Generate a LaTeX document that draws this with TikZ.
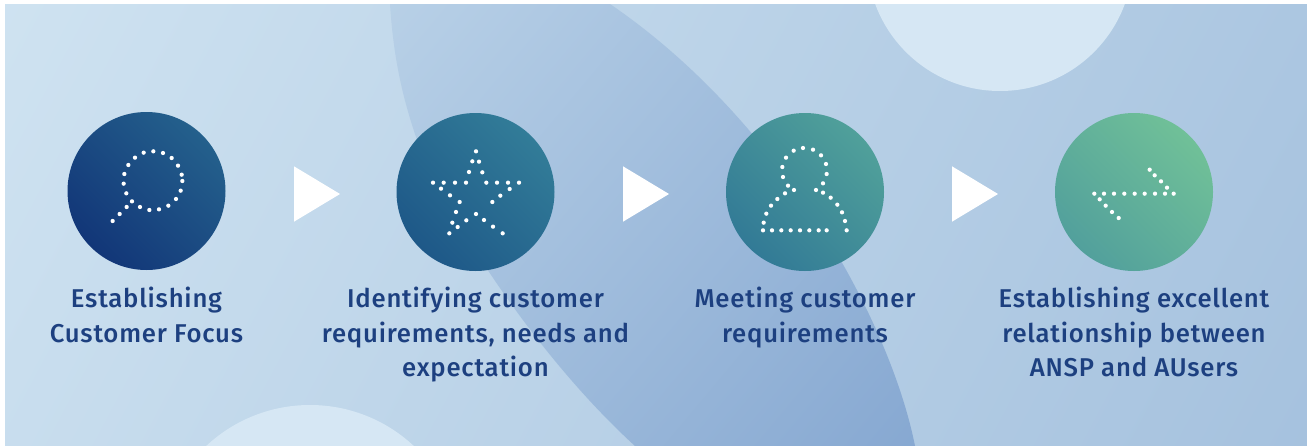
\documentclass[tikz,border=0pt]{standalone}
\usepackage{fontspec}
\newfontfamily\labfont[LetterSpace=3.0]{Fira Sans Medium}
\definecolor{txt}{HTML}{1D4080}
\definecolor{soft}{HTML}{D6E7F4}
\tikzset{
 pic scale/.style={x=0.75pt,y=-0.75pt},
 disc/.style={circle,minimum size=118.5pt,inner sep=0pt},
 lab/.style={font=\labfont\fontsize{19.3}{25.9}\selectfont,text=txt,align=center,anchor=north,inner sep=0pt},
 tri/.style={fill=white,draw=none},
}
\newcommand{\dotset}[3]{\begin{scope}[shift={(#1,#2)},x=0.25pt,y=-0.25pt]
 \foreach \px/\py in {#3}{\fill[white] (\px,\py) circle (1.6pt);}
\end{scope}}
\begin{document}
\begin{tikzpicture}[pic scale]
\useasboundingbox (0,0) rectangle (1307,446);
\fill[white] (0,0) rectangle (1307,446);
\begin{scope}
 \clip (5,4) rectangle (1307,446);
 \shade[left color={rgb,255:red,216;green,234;blue,245},right color={rgb,255:red,156;green,186;blue,218},shading angle=62] (656,225) circle (1000);
 \begin{scope}
  \clip (390,4) .. controls (393,50) and (400,90) .. (416,137) .. controls (440,205) and (530,350) .. (635,446) -- (915,446) .. controls (890,320) and (780,120) .. (610,4) -- cycle;
  \shade[left color={rgb,255:red,196;green,218;blue,236},right color={rgb,255:red,122;green,158;blue,204},shading angle=50] (656,225) circle (520);
 \end{scope}
 \fill[soft] (1000,-42) circle (133);
 \fill[soft] (310,557) circle (152);
\end{scope}
\node[disc,left color={rgb,255:red,18;green,54;blue,120},right color={rgb,255:red,36;green,96;blue,140},shading angle=135] (c1) at (146.5,191) {};
\node[disc,left color={rgb,255:red,30;green,88;blue,136},right color={rgb,255:red,50;green,124;blue,152},shading angle=135] (c2) at (475.5,192) {};
\node[disc,left color={rgb,255:red,50;green,122;blue,150},right color={rgb,255:red,80;green,160;blue,154},shading angle=135] (c3) at (805,192) {};
\node[disc,left color={rgb,255:red,82;green,160;blue,156},right color={rgb,255:red,112;green,192;blue,152},shading angle=135] (c4) at (1134,192) {};
\fill[tri] (294,166.3) -- (340,194) -- (294,221.7) -- cycle;
\fill[tri] (623,166.3) -- (669,194) -- (623,221.7) -- cycle;
\fill[tri] (952,166.3) -- (998,194) -- (952,221.7) -- cycle;
\dotset{60}{100}{158/363,179/342,200/321,216/304,199/280,191/251,193/222,205/195,225/173,251/158,280/154,309/159,335/174,354/197,365/224,367/243,362/272,348/297,325/317,297/328,268/330,240/321}
\dotset{390}{100}{258/154,247/184,267/185,237/216,277/217,129/248,161/248,195/248,228/248,289/248,321/248,354/248,387/248,153/266,359/267,180/286,331/287,209/306,307/306,198/336,258/342,187/368,229/361,282/360,203/381,309/380,178/400,338/400}
\dotset{720}{130}{249/54,221/62,279/59,303/76,198/83,318/102,187/111,320/132,189/141,309/160,204/167,222/180,288/180,195/190,309/188,172/207,332/203,153/227,352/224,139/251,366/247,131/278,375/273,129/301,156/301,184/301,212/301,240/301,268/301,296/301,320/301,380/301}
\dotset{1050}{130}{299/119,314/136,333/154,351/173,133/191,162/191,192/191,223/191,254/191,284/191,315/191,345/191,371/191,149/208,167/227,186/246,206/264}
\node[lab] (t1) at (146.5,287) {Establishing\\Customer Focus};
\node[lab] (t2) at (475.5,287) {Identifying customer\\requirements, needs and\\expectation};
\node[lab] (t3) at (805,287) {Meeting customer\\requirements};
\node[lab] (t4) at (1134,287) {Establishing excellent\\relationship between\\ANSP and AUsers};
\end{tikzpicture}
\end{document}
